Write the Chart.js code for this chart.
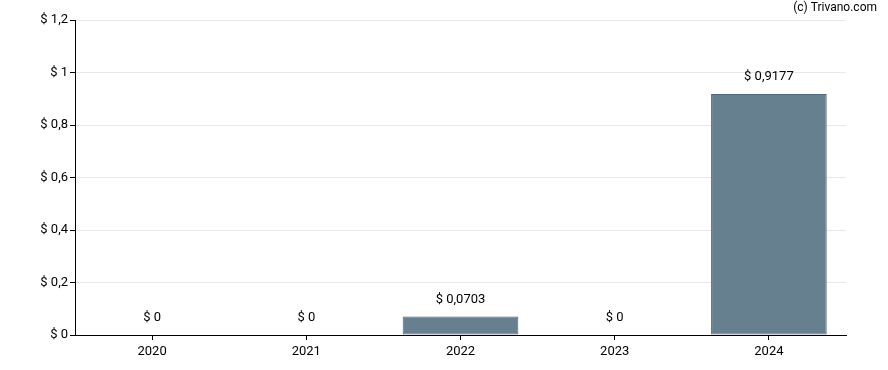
<!DOCTYPE html>
<html>
<head>
<meta charset="utf-8">
<script src="https://cdn.jsdelivr.net/npm/chart.js@4"></script>
<style>
  html, body { margin: 0; padding: 0; background: #fff; }
  #wrap { width: 888px; height: 370px; }
</style>
</head>
<body>
<div id="wrap"><canvas id="divChart" width="888" height="370"></canvas></div>
<script>
const years = ['2020', '2021', '2022', '2023', '2024'];
const dividends = [0, 0, 0.0703, 0, 0.9177];
const yMin = 0;
const yMax = 1.2;
const yStep = 0.2;

function fmtMoney(v) {
    return '$ ' + String(v).replace('.', ',');
}

// labels above each bar
const valueLabels = {
    id: 'valueLabels',
    afterDatasetsDraw(chart) {
        const ctx = chart.ctx;
        const meta = chart.getDatasetMeta(0);
        ctx.save();
        ctx.font = '13px Roboto';
        ctx.fillStyle = '#000';
        ctx.textAlign = 'center';
        ctx.textBaseline = 'middle';
        meta.data.forEach(function (bar, i) {
            ctx.fillText(fmtMoney(dividends[i]), bar.x, bar.y - 17);
        });
        ctx.restore();
    }
};

const copyright = {
    id: 'copyright',
    afterDraw(chart) {
        const ctx = chart.ctx;
        ctx.save();
        ctx.font = '12px Roboto';
        ctx.fillStyle = '#000';
        ctx.textAlign = 'right';
        ctx.textBaseline = 'middle';
        ctx.fillText('(c) Trivano.com', 877, 8);
        ctx.restore();
    }
};

new Chart(document.getElementById('divChart').getContext('2d'), {
    type: 'bar',
    data: {
        labels: years,
        datasets: [{
            data: dividends,
            backgroundColor: '#66808f',
            borderColor: '#4e6678',
            borderWidth: 1,
            borderSkipped: false,
            categoryPercentage: 0.75,
            barPercentage: 1
        }]
    },
    options: {
        responsive: false,
        animation: false,
        layout: { padding: { left: 0, right: 42, top: 20, bottom: 0 } },
        plugins: {
            legend: { display: false },
            tooltip: { enabled: false }
        },
        scales: {
            x: {
                afterFit: function (s) { s.height = 35; },
                grid: { offset: false, drawOnChartArea: false, tickColor: '#000', tickLength: 5 },
                border: { color: '#000', width: 1 },
                ticks: { color: '#000', font: { family: 'Roboto', size: 13 }, padding: 4 }
            },
            y: {
                min: yMin,
                max: yMax,
                afterFit: function (s) { s.width = 75; },
                grid: { color: '#e8e8e8', tickColor: '#000', tickLength: 5 },
                border: { color: '#000', width: 1 },
                ticks: {
                    stepSize: yStep,
                    color: '#000',
                    font: { family: 'Roboto', size: 13 },
                    padding: 2,
                    callback: function (v) { return fmtMoney(Math.round(v * 10) / 10); }
                }
            }
        }
    },
    plugins: [valueLabels, copyright]
});
</script>
</body>
</html>
